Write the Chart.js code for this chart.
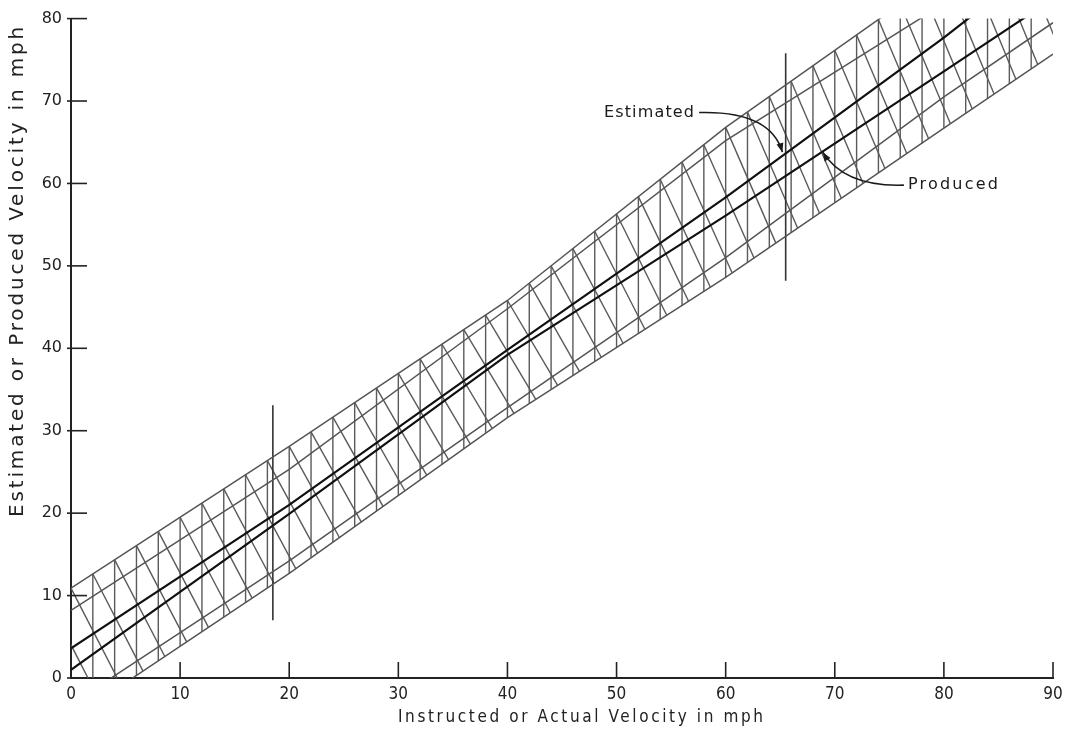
<!DOCTYPE html>
<html>
<head>
<meta charset="utf-8">
<script src="https://cdn.jsdelivr.net/npm/chart.js@4.4.1/dist/chart.umd.min.js"></script>
<style>
    html, body { margin: 0; padding: 0; background: #fff; }
    #wrap { width: 1077px; height: 732px; }
</style>
</head>
<body>
<div id="wrap"><canvas id="velocityChart" width="1077" height="732"></canvas></div>
<script>
/* ================= DATA ================= */
// values at these instructed velocities (mph)
const xKnots    = [0, 20, 40, 60, 80, 90];
const estimated = [3.6, 21.0, 39.8, 58.3, 77.7, 88.0];
const produced  = [1.0, 19.9, 39.2, 56.1, 73.6, 82.4];
const estUpper  = [10.9, 28.1, 45.8, 66.8, 85.5, 95.0];
const estLower  = [-3.2, 14.2, 32.8, 51.0, 70.5, 79.5];
const prodUpper = [8.2, 25.3, 44.8, 65.2, 81.8, 90.5];
const prodLower = [-5.0, 12.7, 31.6, 48.6, 66.7, 75.7];

// the two long range bars
const barX    = [18.5, 65.5];
const barLow  = [7.0, 48.2];
const barHigh = [33.1, 75.8];

const xTicks = [0, 10, 20, 30, 40, 50, 60, 70, 80, 90];
const yTicks = [0, 10, 20, 30, 40, 50, 60, 70, 80];

const xTitle = 'Instructed or Actual Velocity in mph';
const yTitle = 'Estimated or Produced Velocity in mph';

/* ================= HELPERS ================= */
const toPoints = ys => xKnots.map((x, i) => ({ x: x, y: ys[i] }));

function interp(ys, x) {
    if (x <= xKnots[0]) {
        const s = (ys[1] - ys[0]) / (xKnots[1] - xKnots[0]);
        return ys[0] + (x - xKnots[0]) * s;
    }
    for (let i = 1; i < xKnots.length; i++) {
        if (x <= xKnots[i]) {
            const t = (x - xKnots[i - 1]) / (xKnots[i] - xKnots[i - 1]);
            return ys[i - 1] + t * (ys[i] - ys[i - 1]);
        }
    }
    const n = xKnots.length - 1;
    const s = (ys[n] - ys[n - 1]) / (xKnots[n] - xKnots[n - 1]);
    return ys[n] + (x - xKnots[n]) * s;
}

function spacedText(ctx, text, x, y, width) {
    ctx.letterSpacing = '0px';
    const w = ctx.measureText(text).width;
    const ls = (width - w) / (text.length - 1);
    ctx.letterSpacing = ls.toFixed(2) + 'px';
    ctx.fillText(text, x, y);
    ctx.letterSpacing = '0px';
}

function arrowHead(ctx, x, y, ang) {
    const len = 9, half = 3.5;
    ctx.beginPath();
    ctx.moveTo(x, y);
    ctx.lineTo(x - len * Math.cos(ang) + half * Math.sin(ang), y - len * Math.sin(ang) - half * Math.cos(ang));
    ctx.lineTo(x - len * Math.cos(ang) - half * Math.sin(ang), y - len * Math.sin(ang) + half * Math.cos(ang));
    ctx.closePath();
    ctx.fill();
}

/* ================= HATCHING ================= */
const hatchPlugin = {
    id: 'hatch',
    beforeDatasetsDraw(chart) {
        const { ctx, chartArea: a, scales: { x, y } } = chart;
        ctx.save();
        ctx.beginPath();
        ctx.rect(a.left, a.top, a.right - a.left, a.bottom - a.top);
        ctx.clip();
        ctx.strokeStyle = '#5a5a5a';
        ctx.lineWidth = 1.4;
        // vertical hatch across both bands
        for (let v = 2; v <= 88; v += 2) {
            ctx.beginPath();
            ctx.moveTo(x.getPixelForValue(v), y.getPixelForValue(interp(estUpper, v)));
            ctx.lineTo(x.getPixelForValue(v), y.getPixelForValue(interp(prodLower, v)));
            ctx.stroke();
        }
        // diagonal hatch
        const run = 4.6;
        for (let v = -4; v <= 90; v += 2) {
            ctx.beginPath();
            ctx.moveTo(x.getPixelForValue(v), y.getPixelForValue(interp(estUpper, v)));
            ctx.lineTo(x.getPixelForValue(v + run), y.getPixelForValue(interp(prodLower, v + run)));
            ctx.stroke();
        }
        ctx.restore();
    }
};

/* ================= AXES DECOR ================= */
const decorPlugin = {
    id: 'decor',
    afterDraw(chart) {
        const { ctx, chartArea: a, scales: { x, y } } = chart;
        ctx.save();
        ctx.strokeStyle = '#222';
        ctx.lineWidth = 1.6;
        yTicks.forEach(v => {
            const py = y.getPixelForValue(v);
            ctx.beginPath();
            ctx.moveTo(a.left - 4, py);
            ctx.lineTo(a.left + 16, py);
            ctx.stroke();
        });
        xTicks.slice(1).forEach(v => {
            const px = x.getPixelForValue(v);
            ctx.beginPath();
            ctx.moveTo(px, a.bottom);
            ctx.lineTo(px, a.bottom - 16);
            ctx.stroke();
        });

        // axis titles
        ctx.fillStyle = '#222';
        ctx.textBaseline = 'middle';
        ctx.textAlign = 'left';
        ctx.font = '17px "DejaVu Sans Condensed", "DejaVu Sans", sans-serif';
        spacedText(ctx, xTitle, 398, 718, 365);
        ctx.translate(18, 272);
        ctx.rotate(-Math.PI / 2);
        ctx.font = '20px "DejaVu Sans", sans-serif';
        spacedText(ctx, yTitle, -245, 0, 490);
        ctx.restore();

        // annotations
        ctx.save();
        ctx.fillStyle = '#1a1a1a';
        ctx.strokeStyle = '#1a1a1a';
        ctx.lineWidth = 1.6;
        ctx.font = '16px "DejaVu Sans", sans-serif';
        ctx.textBaseline = 'middle';

        // Estimated
        let tx = x.getPixelForValue(57.2), ty = y.getPixelForValue(68.6);
        ctx.textAlign = 'right';
        spacedText(ctx, 'Estimated', tx, ty, 90);
        let ex = x.getPixelForValue(65.2), ey = y.getPixelForValue(63.8);
        let cx = ex - 12, cy = ty - 2;
        ctx.beginPath();
        ctx.moveTo(tx + 4, ty);
        ctx.quadraticCurveTo(cx, cy, ex, ey);
        ctx.stroke();
        arrowHead(ctx, ex, ey, Math.atan2(ey - cy, ex - cx));

        // Produced
        tx = x.getPixelForValue(76.7); ty = y.getPixelForValue(59.8);
        ctx.textAlign = 'left';
        spacedText(ctx, 'Produced', tx, ty, 90);
        ex = x.getPixelForValue(68.9); ey = y.getPixelForValue(63.8);
        cx = ex + 22; cy = ty + 2;
        ctx.beginPath();
        ctx.moveTo(tx - 4, ty);
        ctx.quadraticCurveTo(cx, cy, ex, ey);
        ctx.stroke();
        arrowHead(ctx, ex, ey, Math.atan2(ey - cy, ex - cx));
        ctx.restore();
    }
};

/* ================= CHART ================= */
const bandStyle = { borderColor: '#555', borderWidth: 1.5, pointRadius: 0, fill: false, clip: 0 };
const mainStyle = { borderColor: '#111', borderWidth: 2.2, pointRadius: 0, fill: false, clip: 0 };

const barSets = barX.map((bx, i) => ({
    label: 'range ' + (i + 1),
    data: [{ x: bx, y: barLow[i] }, { x: bx, y: barHigh[i] }],
    borderColor: '#333', borderWidth: 1.6, pointRadius: 0, clip: 0
}));

new Chart(document.getElementById('velocityChart'), {
    type: 'line',
    data: {
        datasets: [
            Object.assign({ label: 'Estimated upper', data: toPoints(estUpper) }, bandStyle),
            Object.assign({ label: 'Estimated lower', data: toPoints(estLower) }, bandStyle),
            Object.assign({ label: 'Produced upper', data: toPoints(prodUpper) }, bandStyle),
            Object.assign({ label: 'Produced lower', data: toPoints(prodLower) }, bandStyle),
            Object.assign({ label: 'Estimated', data: toPoints(estimated) }, mainStyle),
            Object.assign({ label: 'Produced', data: toPoints(produced) }, mainStyle),
            ...barSets
        ]
    },
    options: {
        responsive: false,
        animation: false,
        layout: { padding: { top: 18, right: 24, left: 0, bottom: 0 } },
        plugins: {
            legend: { display: false },
            tooltip: { enabled: false }
        },
        scales: {
            x: {
                type: 'linear',
                min: 0,
                max: 90,
                afterFit: s => { s.height = 54; },
                afterBuildTicks: s => { s.ticks = xTicks.map(v => ({ value: v })); },
                grid: { display: false, drawTicks: false },
                border: { display: true, color: '#222', width: 2 },
                ticks: {
                    color: '#222',
                    padding: 6,
                    maxRotation: 0,
                    font: { family: '"DejaVu Sans Condensed", "DejaVu Sans", sans-serif', size: 17 }
                }
            },
            y: {
                type: 'linear',
                min: 0,
                max: 80,
                afterFit: s => { s.width = 71; },
                afterBuildTicks: s => { s.ticks = yTicks.map(v => ({ value: v })); },
                grid: { display: false, drawTicks: false },
                border: { display: true, color: '#222', width: 2 },
                ticks: {
                    color: '#222',
                    padding: 9,
                    font: { family: '"DejaVu Sans", sans-serif', size: 16 }
                }
            }
        }
    },
    plugins: [hatchPlugin, decorPlugin]
});
</script>
</body>
</html>
